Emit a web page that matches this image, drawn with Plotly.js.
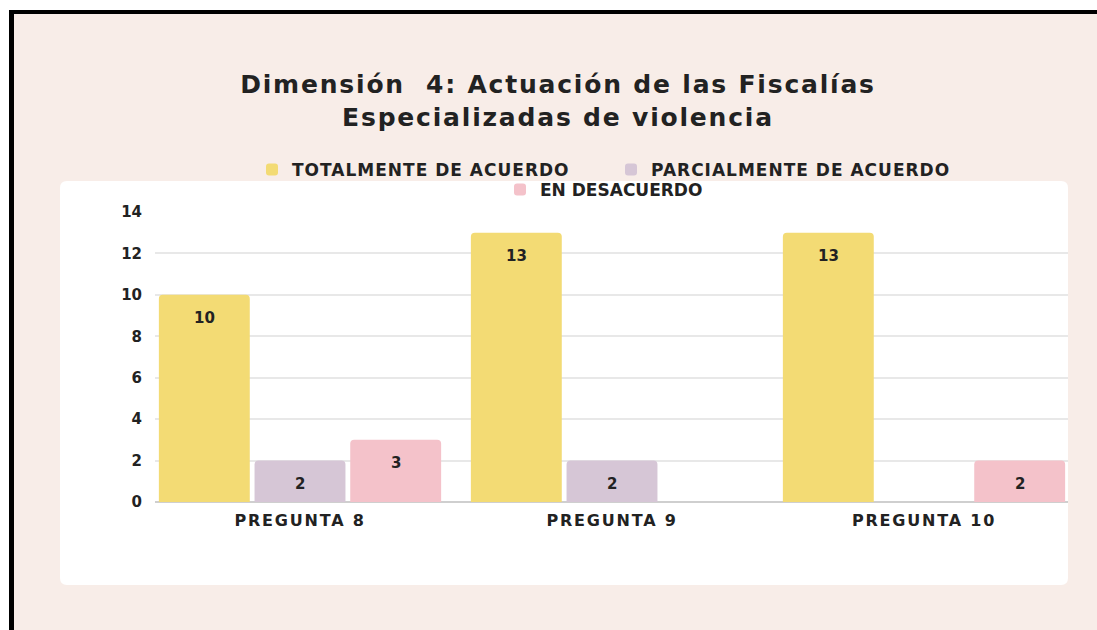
<!DOCTYPE html>
<html>
<head>
<meta charset="utf-8">
<script src="https://cdn.plot.ly/plotly-3.0.1.min.js"></script>
<style>
  html, body { margin:0; padding:0; background:#ffffff; }
  #chart { position:absolute; left:0; top:0; width:1097px; height:630px; }
  #frameWhite { position:absolute; left:0; top:0; width:1097px; height:630px; box-sizing:border-box;
    border-top:10px solid #ffffff; border-left:9px solid #ffffff; pointer-events:none; }
  #frameBlack { position:absolute; left:9px; top:10px; width:1088px; height:620px; box-sizing:border-box;
    border-top:4px solid #000000; border-left:5px solid #000000; pointer-events:none; }
  #chart .gtitle { letter-spacing: 1.8px; }
  #chart .legendtext { letter-spacing: 1px; }
  #chart .xtick text { letter-spacing: 1.8px; }
</style>
</head>
<body>
<div id="chart"></div>
<div id="frameWhite"></div>
<div id="frameBlack"></div>
<script>
// ---- data ----
const categories = ["PREGUNTA 8", "PREGUNTA 9", "PREGUNTA 10"];
const seriesNames = ["TOTALMENTE DE ACUERDO", "PARCIALMENTE DE ACUERDO", "EN DESACUERDO"];
const totalmente = [10, 13, 13];
const parcialmente = [2, 2, 0];
const desacuerdo = [3, 0, 2];
const yTicks = [0, 2, 4, 6, 8, 10, 12, 14];
const titleText = "Dimensión  4: Actuación de las Fiscalías<br>Especializadas de violencia";

// ---- style ----
const colors = ["#F3DB74", "#D6C6D6", "#F4C2CA"];
const FONT = "DejaVu Sans";
const bargap = 0.08, bargroupgap = 0.05;
const seriesValues = [totalmente, parcialmente, desacuerdo];

// plot area geometry (px)
const W = 1097, H = 630;
const mL = 155, mR = 29, mT = 212, mB = 128;
const pw = W - mL - mR, ph = H - mT - mB;
const px2x = p => (p - mL) / pw;
const py2y = p => (H - mB - p) / ph;

const traces = seriesValues.map((vals, k) => ({
  type: "bar",
  name: seriesNames[k],
  x: categories,
  y: vals,
  marker: { color: colors[k], cornerradius: 4, line: { width: 0 } },
  hoverinfo: "x+y+name",
  legend: k < 2 ? "legend" : "legend2"
}));

// value labels
const slot = (1 - bargap) / seriesValues.length;
const annotations = [];
seriesValues.forEach((vals, k) => {
  vals.forEach((v, i) => {
    if (v > 0) {
      annotations.push({
        x: i + (k - (seriesValues.length - 1) / 2) * slot,
        y: v, xref: "x", yref: "y",
        text: String(v), showarrow: false,
        yshift: -23,
        font: { family: FONT, size: 15, color: "#222222", weight: "bold" }
      });
    }
  });
});

// rounded white panel in paper coords
const x0 = px2x(60), x1 = px2x(1068), y0 = py2y(585), y1 = py2y(181);
const rx = 7 / pw, ry = 7 / ph;
const panelPath = `M ${x0 + rx},${y0} L ${x1 - rx},${y0} Q ${x1},${y0} ${x1},${y0 + ry} ` +
  `L ${x1},${y1 - ry} Q ${x1},${y1} ${x1 - rx},${y1} L ${x0 + rx},${y1} Q ${x0},${y1} ${x0},${y1 - ry} ` +
  `L ${x0},${y0 + ry} Q ${x0},${y0} ${x0 + rx},${y0} Z`;

const layout = {
  width: W, height: H,
  paper_bgcolor: "#F8EDE8",
  plot_bgcolor: "rgba(0,0,0,0)",
  margin: { l: mL, r: mR, t: mT, b: mB },
  font: { family: FONT, color: "#222222" },
  title: {
    text: titleText,
    font: { family: FONT, size: 25, color: "#222222", weight: "bold" },
    xref: "container", yref: "container",
    x: 558 / W, y: 1 - 93 / H, xanchor: "center", yanchor: "middle"
  },
  barmode: "group",
  bargap: bargap,
  bargroupgap: bargroupgap,
  xaxis: {
    type: "category",
    range: [-0.5 + 11 / 312, categories.length - 0.5 - 12 / 312],
    showgrid: false, zeroline: false, showline: false, ticks: "",
    ticklabelstandoff: 7,
    tickfont: { family: FONT, size: 16, color: "#222222", weight: "bold" },
    fixedrange: true
  },
  yaxis: {
    range: [0, 14],
    tickvals: yTicks,
    ticktext: yTicks.map(String),
    showgrid: true, gridcolor: "#E8E8E8", gridwidth: 1.5,
    zeroline: true, zerolinecolor: "#CFCFCF", zerolinewidth: 2,
    showline: false, ticks: "",
    ticklabelstandoff: 12,
    tickfont: { family: FONT, size: 15, color: "#222222", weight: "bold" },
    fixedrange: true
  },
  legend: {
    orientation: "h", x: px2x(611), xanchor: "center", y: py2y(170), yanchor: "middle",
    bgcolor: "rgba(0,0,0,0)",
    font: { family: FONT, size: 17, color: "#222222", weight: "bold" },
    entrywidth: 314, entrywidthmode: "pixels", itemclick: false, itemdoubleclick: false
  },
  legend2: {
    orientation: "h", x: px2x(604), xanchor: "center", y: py2y(190), yanchor: "middle",
    bgcolor: "rgba(0,0,0,0)",
    font: { family: FONT, size: 17, color: "#222222", weight: "bold" },
    itemclick: false, itemdoubleclick: false
  },
  shapes: [{
    type: "path", xref: "paper", yref: "paper", path: panelPath,
    fillcolor: "#FFFFFF", line: { width: 0 }, layer: "below"
  }],
  annotations: annotations,
  showlegend: true
};

Plotly.newPlot("chart", traces, layout, { displayModeBar: false, staticPlot: false });
</script>
</body>
</html>
